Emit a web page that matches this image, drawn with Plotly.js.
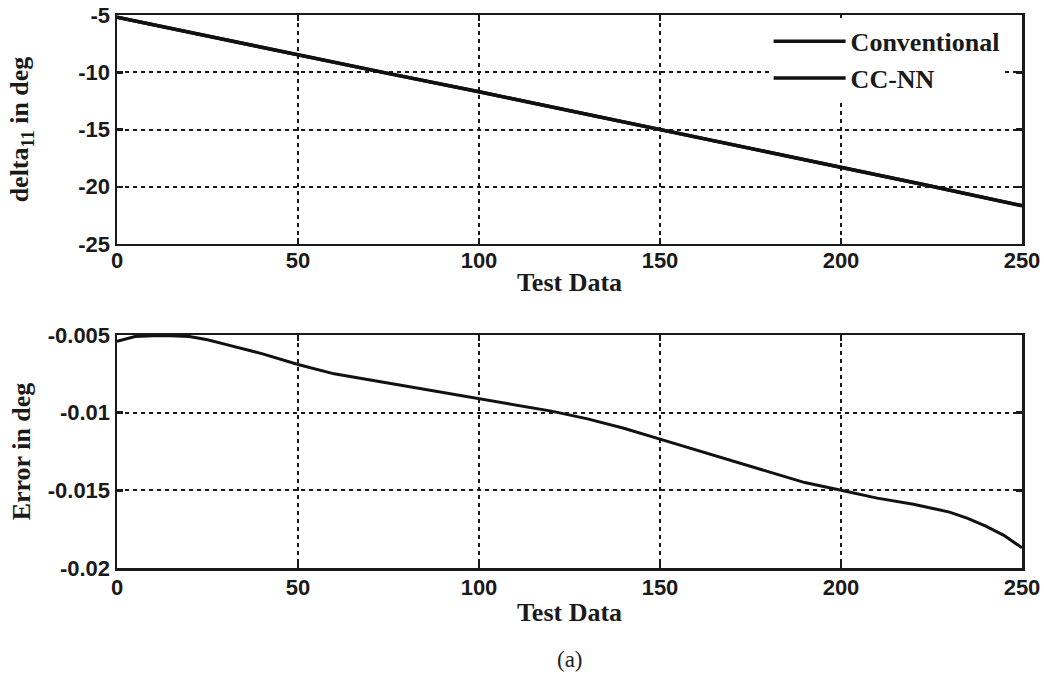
<!DOCTYPE html>
<html>
<head>
<meta charset="utf-8">
<script src="https://cdn.plot.ly/plotly-3.0.1.min.js"></script>
<style>html,body{margin:0;padding:0;background:#fff;}#chart{width:1044px;height:676px;}</style>
</head>
<body>
<div id="chart"></div>
<script>
// Top panel: delta11 in deg
const topX = [0, 25, 50, 75, 100, 125, 150, 175, 200, 225, 250];
const conventional = [-5.2, -6.85, -8.5, -10.1, -11.7, -13.35, -15.0, -16.6, -18.25, -19.95, -21.65];
const ccnn = [-5.2, -6.86, -8.51, -10.12, -11.71, -13.36, -15.01, -16.61, -18.26, -19.96, -21.67];

// Bottom panel: error in deg
const errX = [0, 5, 10, 15, 20, 25, 30, 40, 50, 60, 70, 80, 90, 100, 110, 120, 130, 140, 150, 160, 170, 180, 190, 200, 210, 220, 230, 235, 240, 245, 250];
const errVals = [-0.0054, -0.0051, -0.00505, -0.00505, -0.0051, -0.0053, -0.0056, -0.0062, -0.0069, -0.0075, -0.0079, -0.0083, -0.0087, -0.0091, -0.0095, -0.0099, -0.0104, -0.0110, -0.0117, -0.0124, -0.0131, -0.0138, -0.0145, -0.0150, -0.0155, -0.0159, -0.0164, -0.0168, -0.0173, -0.0179, -0.0187];

// Tick labels
const xTickVals = [0, 50, 100, 150, 200, 250];
const xTickText = ['0', '50', '100', '150', '200', '250'];
const topYTickVals = [-25, -20, -15, -10, -5];
const topYTickText = ['-25', '-20', '-15', '-10', '-5'];
const errYTickVals = [-0.02, -0.015, -0.01, -0.005];
const errYTickText = ['-0.02', '-0.015', '-0.01', '-0.005'];

const tickFont = {family: 'Liberation Sans, Arial, sans-serif', size: 22, color: '#1a1a1a', weight: 'bold'};
const titleFont = {family: 'Liberation Serif, Times New Roman, serif', size: 26, color: '#1a1a1a', weight: 'bold'};

const traces = [
  {x: topX, y: conventional, type: 'scatter', mode: 'lines', name: 'Conventional', legendgroup: 'a',
   line: {color: '#111', width: 3.5}, xaxis: 'x', yaxis: 'y'},
  {x: topX, y: ccnn, type: 'scatter', mode: 'lines', name: 'CC-NN', legendgroup: 'b',
   line: {color: '#111', width: 3.5}, xaxis: 'x', yaxis: 'y'},
  {x: errX, y: errVals, type: 'scatter', mode: 'lines', name: 'Error', showlegend: false,
   line: {color: '#111', width: 3}, xaxis: 'x2', yaxis: 'y2'}
];

const gridStyle = {showgrid: true, gridcolor: '#1a1a1a', gridwidth: 2, griddash: '4px,4px', zeroline: false};
const frameStyle = {ticks: 'inside', ticklen: 6, tickwidth: 2.5, tickcolor: '#1a1a1a',
  showline: true, linecolor: '#1a1a1a', linewidth: 2.5, mirror: 'ticks'};

function xAxis(anchor, labelShift, titleGap) {
  return Object.assign({
    anchor: anchor, domain: [0, 1], range: [0, 250], tickvals: xTickVals, ticktext: xTickText,
    tickfont: tickFont, automargin: false, ticklabelstandoff: labelShift,
    title: {text: 'Test Data', font: titleFont, standoff: titleGap}
  }, gridStyle, frameStyle);
}

const layout = {
  width: 1044, height: 676,
  margin: {l: 117, r: 22, t: 15, b: 108},
  paper_bgcolor: '#fff', plot_bgcolor: '#fff',
  showlegend: true,
  legend: {x: 0.72, y: 0.995, xanchor: 'left', yanchor: 'top', bgcolor: '#fff',
           font: titleFont, traceorder: 'grouped', tracegroupgap: 0, itemwidth: 72},
  xaxis: xAxis('y', -5, 1),
  xaxis2: xAxis('y2', -2, 4),
  yaxis: Object.assign({
    domain: [0.5859, 1], anchor: 'x', range: [-25, -5], automargin: false,
    tickvals: topYTickVals, ticktext: topYTickText, tickfont: tickFont,
    title: {text: 'delta<sub>11</sub> in deg', font: titleFont, standoff: 42}
  }, gridStyle, frameStyle),
  yaxis2: Object.assign({
    domain: [0, 0.4213], anchor: 'x2', range: [-0.02, -0.005], automargin: false,
    tickvals: errYTickVals, ticktext: errYTickText, tickfont: tickFont,
    title: {text: 'Error in deg', font: titleFont, standoff: 10}
  }, gridStyle, frameStyle),
  annotations: [
    {text: '(a)', xref: 'paper', yref: 'paper', x: 0.5, y: -0.166, xanchor: 'center', yanchor: 'middle',
     showarrow: false, font: {family: 'Liberation Serif, Times New Roman, serif', size: 23, color: '#222'}}
  ]
};

Plotly.newPlot('chart', traces, layout, {displayModeBar: false, staticPlot: true});
</script>
</body>
</html>
